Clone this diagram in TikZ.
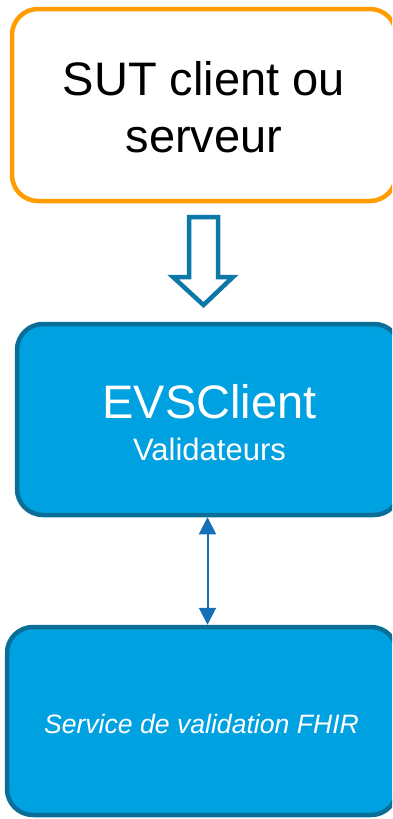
\documentclass[tikz,border=0pt]{standalone}
\usepackage{fontspec}
\setmainfont{Liberation Sans}
\usetikzlibrary{arrows.meta}
\definecolor{orng}{HTML}{FF9C00}
\definecolor{bfill}{HTML}{00A1E0}
\definecolor{bline}{HTML}{0A6E98}
\definecolor{arr}{HTML}{0B78A8}
\definecolor{darr}{HTML}{1570B8}
\tikzset{
  box/.style={rectangle, rounded corners=26pt, line width=4.5pt, inner sep=0pt},
  sutbox/.style={box, draw=orng, fill=white},
  bluebox/.style={box, draw=bline, fill=bfill},
  txt/.style={inner sep=0pt, anchor=base},
}
\begin{document}
\begin{tikzpicture}[x=1pt,y=-1pt]
\useasboundingbox (0,0) rectangle (392,819);
\clip (0,0) rectangle (392,819);
% boxes
\node[sutbox, minimum width=384pt, minimum height=192pt] (sut) at (204,105) {};
\node[bluebox, minimum width=383pt, minimum height=191pt] (evs) at (208.5,419.5) {};
\node[bluebox, minimum width=390pt, minimum height=188pt] (fhir) at (202,721) {};
% texts
\node[txt, font=\fontsize{47}{57}\selectfont] (t1) at (204,95) {SUT client ou};
\node[txt, font=\fontsize{47}{57}\selectfont] (t2) at (204,152) {serveur};
\node[txt, text=white, font=\fontsize{47}{57}\selectfont] (t3) at (209.5,418) {EVSClient};
\node[txt, text=white, font=\fontsize{31}{37}\selectfont] (t4) at (209.5,460) {Validateurs};
\node[txt, text=white, font=\itshape\fontsize{26.6}{31}\selectfont] (t5) at (201.5,733) {Service de validation FHIR};
% block arrow
\draw[arr, line width=4.5pt, line join=miter, fill=white]
  (189,217) -- (218,217) -- (218,277) -- (233,277) -- (203.5,305) -- (173,277) -- (189,277) -- cycle;
% double arrow
\draw[darr, line width=2pt, {Triangle[length=17pt,width=17pt]}-{Triangle[length=17pt,width=17pt]}]
  (evs.south -| 207.5,0) -- (fhir.north -| 207.5,0);
\end{tikzpicture}
\end{document}
